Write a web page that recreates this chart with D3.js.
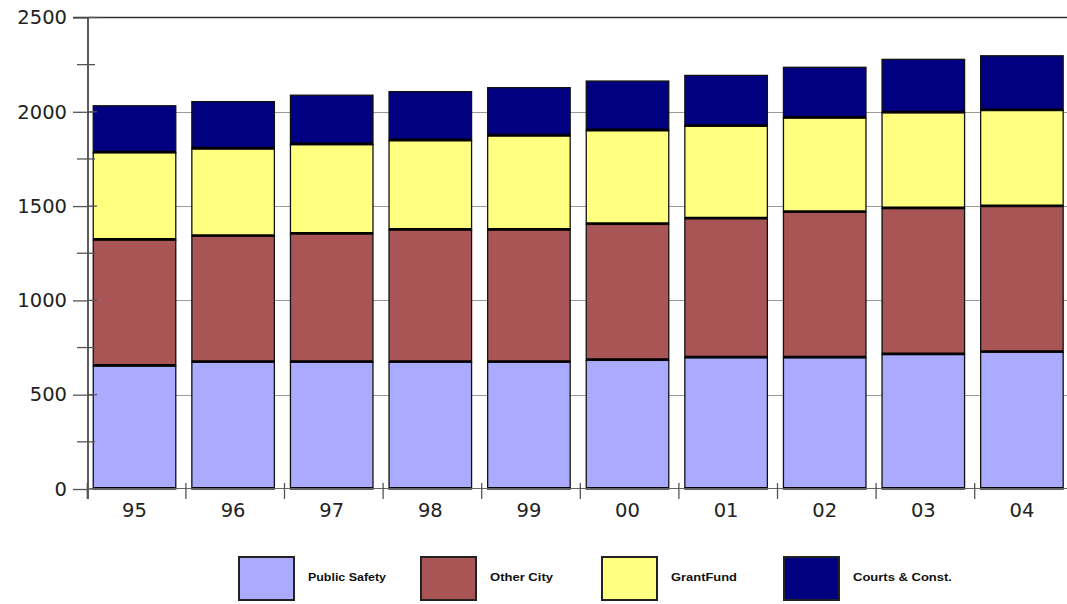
<!DOCTYPE html>
<html>
<head>
<meta charset="utf-8">
<script src="https://cdn.jsdelivr.net/npm/d3@7"></script>
<style>
  html, body { margin: 0; padding: 0; background: #fff; }
  svg { display: block; }
</style>
</head>
<body>
<svg id="chart" width="1067" height="604"></svg>
<script>
const categories = ["95", "96", "97", "98", "99", "00", "01", "02", "03", "04"];
const seriesNames = ["Public Safety", "Other City", "GrantFund", "Courts & Const."];
const publicSafety = [652, 672, 672, 672, 672, 682, 696, 696, 713, 725];
const otherCity    = [668, 668, 680, 701, 701, 721, 737, 771, 774, 773];
const grantFund    = [463, 463, 474, 474, 499, 497, 490, 500, 508, 509];
const courtsConst  = [249, 251, 262, 260, 256, 263, 270, 269, 283, 290];
const majorTicks = [0, 500, 1000, 1500, 2000, 2500];
const minorTicks = [250, 750, 1250, 1750, 2250];
const colors = ["#aaaaff", "#aa5555", "#ffff80", "#000080"];

const seriesValues = [publicSafety, otherCity, grantFund, courtsConst];
const table = categories.map((c, i) => {
  const row = { cat: c };
  seriesNames.forEach((s, k) => row[s] = seriesValues[k][i]);
  return row;
});
const stacked = d3.stack().keys(seriesNames)(table);

const svg = d3.select("#chart");
const axisX = 88;
const plotRight = 1067;

const y = d3.scaleLinear().domain([0, 2500]).range([489, 17.5]);
const x = d3.scaleBand().domain(categories).range([87.3, 87.3 + 986])
  .paddingInner(0.163).paddingOuter(0.0815).align(0.37);
const step = x.step();
const bandStart = 87.3;

// gridlines
svg.append("g").selectAll("line").data(majorTicks.filter(t => t > 0 && t < 2500)).join("line")
  .attr("x1", axisX).attr("x2", plotRight)
  .attr("y1", d => Math.round(y(d)) + 0.5).attr("y2", d => Math.round(y(d)) + 0.5)
  .attr("stroke", "#9a9a9a").attr("stroke-width", 1.2);

// top frame line
svg.append("line")
  .attr("x1", 73).attr("x2", plotRight)
  .attr("y1", y(2500)).attr("y2", y(2500))
  .attr("stroke", "#333").attr("stroke-width", 1.6);

// bars
const layers = svg.append("g").selectAll("g").data(stacked).join("g")
  .attr("fill", (d, i) => colors[i]);
layers.selectAll("rect").data(d => d).join("rect")
  .attr("x", d => x(d.data.cat))
  .attr("width", x.bandwidth())
  .attr("y", d => y(d[1]))
  .attr("height", d => y(d[0]) - y(d[1]))
  .attr("stroke", "#111").attr("stroke-width", 1.3);
// thick bottom edges of segments
layers.selectAll("line").data(d => d).join("line")
  .attr("x1", d => x(d.data.cat))
  .attr("x2", d => x(d.data.cat) + x.bandwidth())
  .attr("y1", d => y(d[0]) - 1).attr("y2", d => y(d[0]) - 1)
  .attr("stroke", "#000").attr("stroke-width", 2.2);

// y axis
const yAxis = d3.axisLeft(y).tickValues(majorTicks).tickSize(15).tickPadding(6)
  .tickFormat(d3.format("d"));
const gy = svg.append("g").attr("transform", `translate(${axisX},0)`).call(yAxis);
gy.select(".domain").attr("stroke", "#333").attr("stroke-width", 1.6)
  .attr("d", `M0,${y(2500)}V${y(0) + 10}`);
gy.selectAll(".tick line").attr("stroke", "#555").attr("stroke-width", 1.3);
gy.selectAll(".tick text").attr("font-family", "DejaVu Sans, Verdana, sans-serif")
  .attr("font-size", 19.5).attr("fill", "#222");
// inner part of major ticks
svg.append("g").selectAll("line").data(majorTicks).join("line")
  .attr("x1", axisX).attr("x2", axisX + 9)
  .attr("y1", d => y(d)).attr("y2", d => y(d))
  .attr("stroke", "#555").attr("stroke-width", 1.3);
// minor ticks
svg.append("g").selectAll("line").data(minorTicks).join("line")
  .attr("x1", 77).attr("x2", 95)
  .attr("y1", d => y(d)).attr("y2", d => y(d))
  .attr("stroke", "#555").attr("stroke-width", 1.3);

// x axis
svg.append("line").attr("x1", axisX).attr("x2", plotRight)
  .attr("y1", y(0) - 0.5).attr("y2", y(0) - 0.5)
  .attr("stroke", "#666").attr("stroke-width", 1.2);
svg.append("g").selectAll("line").data(d3.range(categories.length)).join("line")
  .attr("x1", i => bandStart + i * step).attr("x2", i => bandStart + i * step)
  .attr("y1", y(0) - 6).attr("y2", y(0) + 10)
  .attr("stroke", "#555").attr("stroke-width", 1.3);
const xAxis = d3.axisBottom(x).tickSize(0).tickPadding(0);
const gx = svg.append("g").attr("transform", `translate(0,${y(0)})`).call(xAxis);
gx.select(".domain").remove();
gx.selectAll(".tick text").attr("font-family", "DejaVu Sans, Verdana, sans-serif")
  .attr("font-size", 19.5).attr("fill", "#222").attr("dy", "1.45em")
  .attr("y", 0);

// legend
const legendX = [239, 421, 602, 784];
const legendW = [78, 63, 66, 99];
const leg = svg.append("g").selectAll("g").data(seriesNames).join("g")
  .attr("transform", (d, i) => `translate(${legendX[i]},557)`);
leg.append("rect").attr("width", 55).attr("height", 43)
  .attr("fill", (d, i) => colors[i]).attr("stroke", "#222").attr("stroke-width", 2);
leg.append("text").attr("x", 69).attr("y", 24).text(d => d)
  .attr("font-family", "Liberation Sans, Arial, sans-serif").attr("font-weight", "bold")
  .attr("font-size", 11).attr("fill", "#111")
  .attr("textLength", (d, i) => legendW[i]).attr("lengthAdjust", "spacingAndGlyphs");
</script>
</body>
</html>
